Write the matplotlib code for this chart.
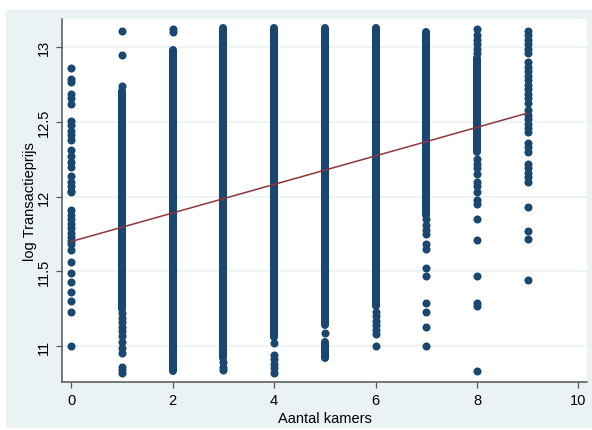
import matplotlib
matplotlib.use("Agg")
import matplotlib.pyplot as plt
from matplotlib.patches import Rectangle

# log transaction price per number of rooms
# single observations (y values) per room count
pts_0 = [12.86, 12.79, 12.77, 12.69, 12.66, 12.62, 12.51, 12.48, 12.44, 12.41,
         12.38, 12.31, 12.27, 12.23, 12.20, 12.14, 12.10, 12.07, 12.04, 12.03,
         11.91, 11.88, 11.85, 11.82, 11.79, 11.76, 11.73, 11.70, 11.68, 11.64,
         11.56, 11.49, 11.43, 11.36, 11.30, 11.23, 11.00]
pts_1 = [13.11, 12.95, 12.74, 11.22, 11.19, 11.16, 11.13, 11.10, 11.07, 11.03,
         10.99, 10.95, 10.86, 10.84, 10.82]
pts_2 = [13.12, 13.10]
pts_3 = [10.89, 10.86, 10.84]
pts_4 = [11.02, 10.94, 10.91, 10.88, 10.85, 10.82]
pts_5 = [11.09]
pts_6 = [11.23, 11.20, 11.17, 11.14, 11.11, 11.08, 11.00]
pts_7 = [11.85, 11.81, 11.78, 11.75, 11.68, 11.65, 11.52, 11.47, 11.29, 11.23,
         11.13, 11.00]
pts_8 = [13.12, 13.08, 13.05, 13.02, 12.99, 12.96, 12.25, 12.22, 12.19, 12.15,
         12.10, 12.07, 12.03, 11.98, 11.95, 11.85, 11.71, 11.47, 11.29, 11.27,
         10.83]
pts_9 = [13.11, 13.08, 13.05, 13.02, 12.99, 12.96, 12.90, 12.87, 12.84, 12.81,
         12.78, 12.75, 12.72, 12.69, 12.66, 12.63, 12.58, 12.55, 12.52, 12.49,
         12.46, 12.43, 12.36, 12.33, 12.30, 12.22, 12.19, 12.16, 12.13, 12.10,
         11.93, 11.77, 11.72, 11.44]

# ranges where observations are so dense they form a solid column
runs_1 = [(11.25, 12.71)]
runs_2 = [(10.83, 12.98)]
runs_3 = [(10.92, 13.13)]
runs_4 = [(11.06, 13.13)]
runs_5 = [(11.14, 13.13), (10.92, 11.03)]
runs_6 = [(11.27, 13.13)]
runs_7 = [(11.88, 13.10)]
runs_8 = [(12.30, 12.93)]

# linear fit
fit_x = [0, 9]
fit_y = [11.70, 12.56]

x_ticks = [0, 2, 4, 6, 8, 10]
y_ticks = [11, 11.5, 12, 12.5, 13]
y_ticklabels = ["11", "11.5", "12", "12.5", "13"]

points = [pts_0, pts_1, pts_2, pts_3, pts_4, pts_5, pts_6, pts_7, pts_8, pts_9]
runs = [[], runs_1, runs_2, runs_3, runs_4, runs_5, runs_6, runs_7, runs_8, []]

navy = "#1a476f"
maroon = "#90353b"
bluishgray = "#eaf2f3"
dot = 5.8

plt.rcParams["font.family"] = ["Liberation Sans", "DejaVu Sans"]

W, H = 592, 431
fig = plt.figure(figsize=(W / 100, H / 100), dpi=100)
fig.patch.set_facecolor("white")
fig.add_artist(Rectangle((6 / W, (H - 429) / H), 1 - 6 / W, (429 - 11) / H,
                         transform=fig.transFigure, facecolor=bluishgray,
                         edgecolor="none", zorder=-10))

ax = fig.add_axes([62 / W, (H - 383) / H, (587 - 62) / W, (383 - 20) / H])
ax.set_facecolor("white")

for k in range(len(points)):
    for lo, hi in runs[k]:
        ax.plot([k, k], [lo, hi], color=navy, lw=dot, solid_capstyle="round",
                zorder=3)
    ax.plot([k] * len(points[k]), points[k], "o", color=navy, ms=dot,
            markeredgewidth=0, linestyle="none", zorder=3)

ax.plot(fit_x, fit_y, color=maroon, lw=1.1, zorder=4)

ax.set_xlim(-0.183, 10.17)
ax.set_ylim(10.759, 13.19)
ax.set_xticks(x_ticks)
ax.set_yticks(y_ticks)
ax.set_yticklabels(y_ticklabels, rotation=90, va="center")

ax.yaxis.grid(True, color=bluishgray, lw=1.2, zorder=0)
ax.set_axisbelow(True)

for side in ["top", "right"]:
    ax.spines[side].set_visible(False)
for side in ["left", "bottom"]:
    ax.spines[side].set_color("#555555")
    ax.spines[side].set_linewidth(1.1)

ax.tick_params(direction="out", length=4, width=0.9, color="#555555",
               labelsize=10.5, labelcolor="black", pad=4)

ax.set_xlabel("Aantal kamers", fontsize=10.5, labelpad=3)
ax.set_ylabel("log Transactieprijs", fontsize=10.5, labelpad=0)

fig.savefig("out.png", dpi=100, facecolor=fig.get_facecolor())
